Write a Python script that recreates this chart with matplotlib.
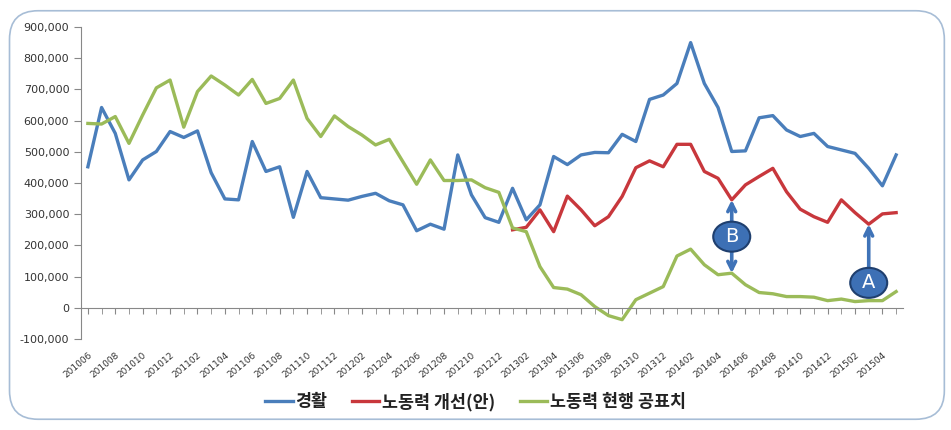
import matplotlib
matplotlib.use('Agg')
import matplotlib.pyplot as plt
import numpy as np
from matplotlib.patches import Ellipse, FancyBboxPatch
from matplotlib.ticker import FuncFormatter

# 2010.06 ~ 2015.05 월별
months = []
for yy in range(2010, 2016):
    for mm in range(1, 13):
        ym = yy * 100 + mm
        if 201006 <= ym <= 201505:
            months.append(str(ym))

gyeonghwal = [452000, 642000, 559000, 410000, 474000, 501000, 565000, 546000, 567000, 433000,
              349000, 346000, 533000, 437000, 452000, 290000, 437000, 353000, 349000, 345000,
              357000, 367000, 343000, 330000, 247000, 268000, 252000, 490000, 362000, 289000,
              274000, 383000, 282000, 330000, 485000, 459000, 490000, 498000, 497000, 556000,
              533000, 668000, 682000, 719000, 850000, 719000, 642000, 501000, 503000, 609000,
              616000, 570000, 549000, 559000, 517000, 506000, 495000, 447000, 391000, 490000]

# 개선(안)은 201301부터
gaeseon = [None] * 31 + [250000, 258000, 314000, 244000, 358000, 314000, 263000, 292000, 357000,
                         449000, 471000, 452000, 524000, 524000, 437000, 415000, 346000, 394000, 421000,
                         447000, 372000, 316000, 292000, 274000, 346000, 305000, 268000, 301000, 305000]

hyeonhaeng = [591000, 589000, 613000, 527000, 618000, 705000, 730000, 579000, 693000, 743000,
              714000, 682000, 732000, 655000, 671000, 730000, 607000, 549000, 615000, 581000,
              554000, 522000, 540000, 468000, 396000, 474000, 408000, 408000, 410000, 385000,
              370000, 256000, 244000, 132000, 65000, 60000, 42000, 4000, -25000, -38000,
              26000, 47000, 68000, 166000, 188000, 138000, 106000, 111000, 74000, 49000,
              45000, 36000, 36000, 34000, 23000, 28000, 20000, 23000, 23000, 52000]

series_names = ['경활', '노동력 개선(안)', '노동력 현행 공표치']
colors = ['#4a7ebb', '#c8373c', '#9bbb59']

# 표시 A, B (월 인덱스, 원 중심 값)
mark_b = (47, 228000)
mark_a = (57, 80000)

plt.rcParams['font.family'] = ['DejaVu Sans']

fig = plt.figure(figsize=(9.51, 4.30), dpi=100)
fig.patch.set_facecolor('white')

# 바깥 둥근 테두리
frame = FancyBboxPatch((0.010, 0.025), 0.983, 0.95, boxstyle='round,pad=0,rounding_size=0.03',
                       transform=fig.transFigure, facecolor='none', edgecolor='#a7bdd6',
                       linewidth=1.2, mutation_aspect=951 / 430)
fig.patches.append(frame)

ax = fig.add_axes([0.0852, 0.2116, 0.8643, 0.7256])
ax.set_facecolor('none')

x = np.arange(len(months))
g2 = np.array([np.nan if v is None else v for v in gaeseon], dtype=float)
lines = []
for vals, name, c in zip([gyeonghwal, g2, hyeonhaeng], series_names, colors):
    ln, = ax.plot(x, vals, color=c, linewidth=2.4, label=name, solid_joinstyle='round')
    lines.append(ln)

ax.set_xlim(-0.5, len(months) - 0.5)
ax.set_ylim(-100000, 900000)
ax.set_yticks(np.arange(-100000, 900001, 100000))
ax.yaxis.set_major_formatter(FuncFormatter(lambda v, p: f'{int(v):,}'))
ax.tick_params(axis='y', labelsize=8, labelcolor='#333333', color='#888888', length=5, direction='out')

ax.spines['top'].set_visible(False)
ax.spines['right'].set_visible(False)
ax.spines['left'].set_color('#888888')
ax.spines['bottom'].set_color('#888888')
ax.spines['bottom'].set_position(('data', 0))

ax.set_xticks(x, minor=True)
ax.set_xticks(x[::2])
ax.set_xticklabels(months[::2], rotation=40, ha='right', rotation_mode='anchor', fontsize=6.5, color='#333333')
ax.tick_params(axis='x', which='both', color='#888888', length=4, direction='out')
# 라벨은 -100,000 아래쪽에
ax.tick_params(axis='x', which='major', pad=27)

# 원형 표시와 화살표
arrow_c = '#3f73b8'
sx = 13.7  # px per month
sy = 281 / 900000  # px per value
for (mi, my), txt, targets in [(mark_b, 'B', [gaeseon[mark_b[0]], hyeonhaeng[mark_b[0]]]),
                               (mark_a, 'A', [gaeseon[mark_a[0]]])]:
    half_h = 15 / sy
    for t in targets:
        start = my + half_h if t > my else my - half_h
        ax.annotate('', xy=(mi, t), xytext=(mi, start),
                    arrowprops=dict(arrowstyle='->', color=arrow_c, lw=2.6, mutation_scale=14,
                                    shrinkA=0, shrinkB=0), zorder=5)
    ell = Ellipse((mi, my), width=37 / sx, height=30 / sy, facecolor='#3d70b5', edgecolor='#1f3f6e',
                  linewidth=1.5, zorder=6)
    ax.add_patch(ell)
    ax.text(mi, my, txt, color='white', fontsize=14, ha='center', va='center', zorder=7)

leg = fig.legend(handles=lines, labels=series_names, loc='center', bbox_to_anchor=(0.5, 0.065),
                 ncol=3, frameon=False, handlelength=1.6, handletextpad=0.15, columnspacing=1.4,
                 prop={'family': ['Noto Sans CJK KR', 'DejaVu Sans'], 'size': 12.5, 'weight': 'bold'})
for t in leg.get_texts():
    t.set_color('#222222')

fig.savefig('out.png', dpi=100)
